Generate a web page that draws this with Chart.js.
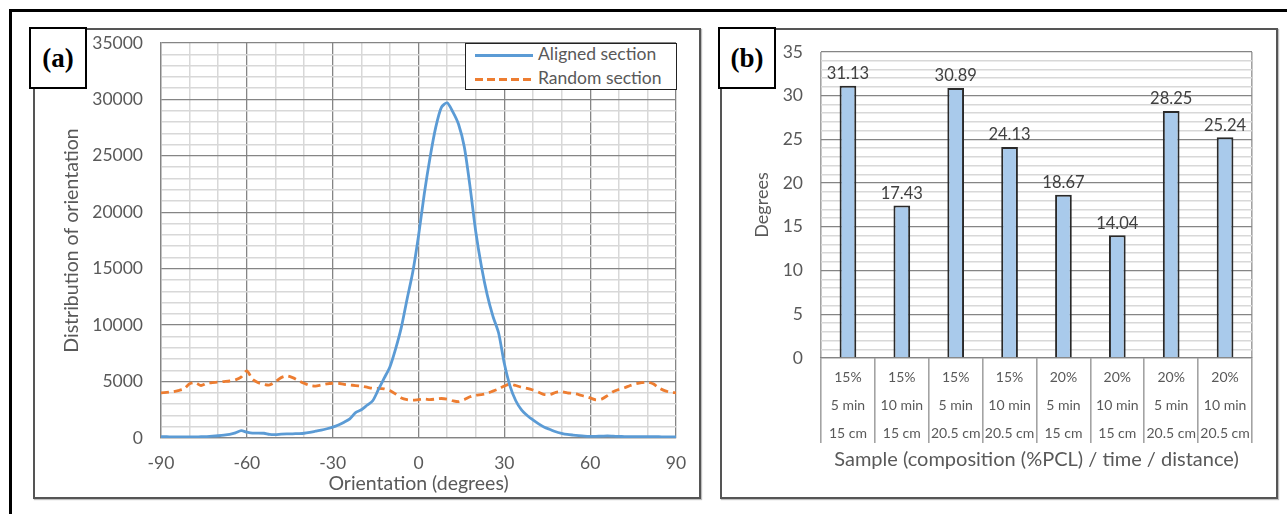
<!DOCTYPE html>
<html>
<head>
<meta charset="utf-8">
<script src="https://cdn.jsdelivr.net/npm/chart.js@4.4.1/dist/chart.umd.min.js"></script>
<style>
html,body{margin:0;padding:0;background:#fff;}
body{width:1287px;height:514px;overflow:hidden;position:relative;font-family:Lato,"Noto Sans",sans-serif;}
.outer{position:absolute;left:9px;top:9px;width:1320px;height:540px;border:3px solid #000;box-sizing:border-box;}
.panel{position:absolute;border:2px solid #555;box-sizing:border-box;box-shadow:1px 1px 1px rgba(0,0,0,0.25);}
.tag{position:absolute;border:2.5px solid #000;background:#fff;box-sizing:border-box;font-family:"Liberation Serif","DejaVu Serif",serif;font-weight:bold;font-size:27px;line-height:1;display:flex;align-items:center;justify-content:center;z-index:5;}
canvas{position:absolute;top:0;}
.legend{position:absolute;left:465px;top:43px;width:212px;height:47px;border:1.5px solid #222;background:#fff;box-sizing:border-box;z-index:4;}
.lg-line{position:absolute;left:9px;width:58px;height:3px;}
.lg-text{position:absolute;left:72px;font-size:17.5px;color:#595959;line-height:20px;white-space:nowrap;}
</style>
</head>
<body>
<div class="outer"></div>
<div class="panel" style="left:33px;top:28px;width:668px;height:471px;"></div>
<div class="panel" style="left:720px;top:28px;width:558px;height:471px;"></div>
<canvas id="chartA" width="705" height="514" style="left:0;"></canvas>
<canvas id="chartB" width="582" height="514" style="left:705px;"></canvas>
<div class="tag" style="left:29px;top:27px;width:58px;height:62px;">(a)</div>
<div class="tag" style="left:718px;top:27px;width:58px;height:62px;">(b)</div>
<div class="legend">
  <div class="lg-line" style="top:10px;background:#5B9BD5;"></div>
  <div class="lg-text" style="top:0px;">Aligned section</div>
  <div class="lg-line" style="top:34px;background:repeating-linear-gradient(to right,#ED7D31 0 8px,transparent 8px 12px);"></div>
  <div class="lg-text" style="top:24px;">Random section</div>
</div>
<script>
// ---- Panel (a) data ----
const angles = [-90,-88,-86,-84,-82,-80,-78,-76,-74,-72,-70,-68,-66,-64,-62,-60,-58,-56,-54,-52,-50,-48,-46,-44,-42,-40,-38,-36,-34,-32,-30,-28,-26,-24,-22,-20,-18,-16,-14,-12,-10,-8,-6,-4,-2,0,2,4,6,8,10,12,14,16,18,20,22,24,26,28,30,32,34,36,38,40,42,44,46,48,50,52,54,56,58,60,62,64,66,68,70,72,74,76,78,80,82,84,86,88,90];
const alignedSection = [120,110,100,90,90,90,100,110,130,160,200,250,320,450,650,520,430,440,420,320,300,340,360,370,390,420,500,600,700,820,960,1150,1400,1700,2250,2500,2900,3300,4300,5300,6300,7900,9800,12300,14700,17900,21600,24800,27500,29300,29700,28900,27800,25800,22300,18300,15200,12700,10800,9300,6600,4600,3300,2500,2000,1600,1250,950,750,550,420,320,260,210,170,150,150,160,180,160,140,130,120,130,120,120,110,110,100,100,100];
const randomSection = [4000,4050,4100,4200,4350,4800,4900,4650,4850,4900,4950,5000,5050,5150,5400,5950,5200,4900,4750,4700,5000,5350,5500,5350,5100,4850,4650,4600,4700,4800,4850,4850,4750,4700,4650,4600,4500,4400,4400,4350,4200,3900,3550,3400,3350,3400,3450,3400,3450,3500,3450,3300,3220,3400,3650,3800,3850,3950,4150,4350,4600,4780,4650,4500,4400,4250,4050,3850,3850,4050,4100,4000,3950,3850,3700,3550,3380,3450,3750,4100,4300,4450,4650,4800,4900,4950,4800,4450,4200,4050,4000];
const xTickLabelsA = [-90,-60,-30,0,30,60,90];
const yTickLabelsA = [0,5000,10000,15000,20000,25000,30000,35000];

// ---- Panel (b) data ----
const samples = [['15%','5 min','15 cm'],['15%','10 min','15 cm'],['15%','5 min','20.5 cm'],['15%','10 min','20.5 cm'],['20%','5 min','15 cm'],['20%','10 min','15 cm'],['20%','5 min','20.5 cm'],['20%','10 min','20.5 cm']];
const degreesValues = [31.13,17.43,30.89,24.13,18.67,14.04,28.25,25.24];
const yTickLabelsB = [0,5,10,15,20,25,30,35];

Chart.defaults.font.family = 'Lato, "Noto Sans", sans-serif';
Chart.defaults.color = '#595959';

const MAJOR = '#858585', MINOR = '#d8d8d8';

new Chart(document.getElementById('chartA'), {
  type: 'line',
  data: {
    datasets: [
      { label: 'Aligned section', data: angles.map((a,i)=>({x:a,y:alignedSection[i]})), borderColor:'#5B9BD5', borderWidth:2.8, pointRadius:0, tension:0.25, fill:false },
      { label: 'Random section', data: angles.map((a,i)=>({x:a,y:randomSection[i]})), borderColor:'#ED7D31', borderWidth:2.8, borderDash:[8,5], pointRadius:0, tension:0.25, fill:false }
    ]
  },
  options: {
    responsive:false, animation:false,
    layout:{padding:{left:0,top:43,right:29,bottom:0}},
    plugins:{legend:{display:false}, tooltip:{enabled:false}},
    scales:{
      x:{
        type:'linear', min:-90, max:90,
        afterFit(s){ s.height = 76; },
        ticks:{stepSize:10, autoSkip:false, maxRotation:0, padding:15, font:{size:17.5}, color:'#595959',
          callback:(v)=> xTickLabelsA.includes(v) ? String(v) : ''},
        grid:{drawTicks:false, lineWidth:(c)=> (c.tick && c.tick.value%30===0)?1.3:1.5, color:(c)=> (c.tick && c.tick.value%30===0)?MAJOR:MINOR},
        border:{display:true,color:MAJOR,width:1.3},
        title:{display:true,text:'Orientation (degrees)',font:{size:19.5},color:'#595959',padding:{top:0,bottom:19}}
      },
      y:{
        min:0, max:35000,
        afterFit(s){ s.width = 161; },
        ticks:{stepSize:1000, autoSkip:false, maxTicksLimit:100, padding:18, font:{size:17.5}, color:'#595959',
          callback:(v)=> yTickLabelsA.includes(v) ? String(v) : ''},
        grid:{drawTicks:false, lineWidth:(c)=> (c.tick && c.tick.value%5000===0)?1.3:1.5, color:(c)=> (c.tick && c.tick.value%5000===0)?MAJOR:MINOR},
        border:{display:true,color:MAJOR,width:1.3},
        title:{display:true,text:'Distribution of orientation',font:{size:19.5},color:'#595959',padding:{top:60,bottom:0}}
      }
    }
  }
});

const barValueLabels = {
  id:'barValueLabels',
  afterDatasetsDraw(chart){
    const ctx = chart.ctx;
    const meta = chart.getDatasetMeta(0);
    ctx.save();
    ctx.font = '16.5px Lato, "Noto Sans", sans-serif';
    ctx.fillStyle = '#404040';
    ctx.textAlign = 'center';
    ctx.textBaseline = 'middle';
    meta.data.forEach((el,i)=>{ ctx.fillText(degreesValues[i].toFixed(2), el.x, el.y - 12); });
    ctx.restore();
  }
};

const EDGE = '#a3a3a3';
new Chart(document.getElementById('chartB'), {
  type:'bar',
  data:{ labels: samples, datasets:[{ data: degreesValues, backgroundColor:'#A9CAEB', borderColor:'#2a2a2a', borderWidth:2, categoryPercentage:1, barPercentage:0.31 }] },
  options:{
    responsive:false, animation:false,
    layout:{padding:{left:0,top:52,right:35,bottom:0}},
    plugins:{legend:{display:false}, tooltip:{enabled:false}},
    scales:{
      x:{
        afterFit(s){ s.height = 156; },
        ticks:{autoSkip:false, maxRotation:0, padding:-80, font:{size:14, lineHeight:2.015}, color:'#595959'},
        grid:{offset:true, drawOnChartArea:true, drawTicks:true, tickLength:85, tickColor:EDGE, tickWidth:1.6, lineWidth:1.6,
          color:(c)=> (c.type!=='tick' || c.index===0) ? EDGE : 'rgba(0,0,0,0)'},
        border:{display:true,color:MAJOR,width:1.3},
        title:{display:true,text:'Sample (composition (%PCL) / time / distance)',font:{size:20},color:'#595959',padding:{top:0,bottom:42}}
      },
      y:{
        min:0, max:35,
        afterFit(s){ s.width = 116; },
        ticks:{stepSize:1, autoSkip:false, maxTicksLimit:100, padding:18, font:{size:17.5}, color:'#595959',
          callback:(v)=> yTickLabelsB.includes(v) ? String(v) : ''},
        grid:{drawTicks:false, lineWidth:(c)=> (c.tick && c.tick.value%5===0)?1.3:1.5, color:(c)=> (c.tick && c.tick.value%5===0)?MAJOR:MINOR},
        border:{display:false},
        title:{display:true,text:'Degrees',font:{size:18},color:'#595959',padding:{top:46,bottom:0}}
      }
    }
  },
  plugins:[barValueLabels]
});
</script>
</body>
</html>
